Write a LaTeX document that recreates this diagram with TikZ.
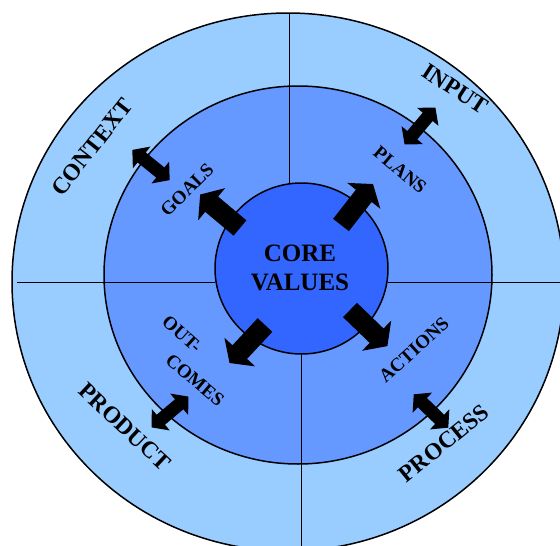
\documentclass[tikz,border=0pt]{standalone}
\usepackage{fontspec}
\setmainfont{Liberation Serif}
\definecolor{outerblue}{HTML}{99CCFF}
\definecolor{middleblue}{HTML}{6699FF}
\definecolor{innerblue}{HTML}{3366FF}
% one-way block arrow: tail centre (#1,#2), direction #3 (degrees)
\newcommand\onewayarrow[3]{%
  \fill[blockarrow,shift={(#1,#2)},rotate=#3]
    (0,-10) -- (37,-10) -- (37,-21) -- (52,0) -- (37,21) -- (37,10) -- (0,10) -- cycle;}
% two-way block arrow: centre (#1,#2), axis direction #3 (degrees)
\newcommand\twowayarrow[3]{%
  \fill[blockarrow,shift={(#1,#2)},rotate=#3]
    (-24,0) -- (-12,-14) -- (-12,-6.5) -- (12,-6.5) -- (12,-14) -- (24,0)
    -- (12,14) -- (12,6.5) -- (-12,6.5) -- (-12,14) -- cycle;}
\begin{document}
\begin{tikzpicture}[x=1pt,y=-1pt,
  ring/.style={draw=black,line width=1.5pt},
  divider/.style={draw=black,line width=1pt},
  blockarrow/.style={fill=black},
  corelabel/.style={font=\fontsize{25}{29}\selectfont\bfseries,inner sep=0pt,align=center},
  outerlabel/.style={font=\fontsize{23.5}{25}\selectfont\bfseries,inner sep=0pt},
  innerlabel/.style={font=\fontsize{19}{21}\selectfont\bfseries,inner sep=0pt}]
\useasboundingbox (0,0) rectangle (560,546);
\clip (0,0) rectangle (560,546);

% rings
\filldraw[ring,fill=outerblue] (288,282) ellipse [x radius=276pt,y radius=269pt];
\filldraw[ring,fill=middleblue] (298,275) ellipse [x radius=194pt,y radius=189pt];

% quadrant dividers
\draw[divider] (289,13) -- (289,183);
\draw[divider] (17,282) -- (215,282);
\draw[divider] (301,354) -- (301,546);
\draw[divider] (388,282) -- (560,282);

% core
\filldraw[ring,fill=innerblue] (301.5,268.5) ellipse [x radius=86.5pt,y radius=85.5pt];
\node[corelabel] (core) at (300,268) {CORE\\VALUES};

% arrows from the core outwards
\onewayarrow{240}{228}{140}
\onewayarrow{341}{225}{52}
\onewayarrow{265}{325}{227}
\onewayarrow{350}{310}{-44}

% arrows across the middle ring
\twowayarrow{151}{165}{-39}
\twowayarrow{420}{126}{50}
\twowayarrow{170}{412}{40}
\twowayarrow{431}{411}{-44}

% outer ring labels
\node[outerlabel,rotate=52] (context) at (92,147) {CONTEXT};
\node[outerlabel,rotate=-33] (input) at (455,89) {INPUT};
\node[outerlabel,rotate=-43] (product) at (125,427) {PRODUCT};
\node[outerlabel,rotate=39] (process) at (444,443) {PROCESS};

% middle ring labels
\node[innerlabel,rotate=45] (goals) at (187,190) {GOALS};
\node[innerlabel,rotate=-40] (plans) at (400,170) {PLANS};
\node[innerlabel,rotate=42] (actions) at (414,350) {ACTIONS};
\node[innerlabel,rotate=-42] (out) at (182,334) {OUT-};
\node[innerlabel,rotate=-40] (comes) at (195,380) {COMES};
\end{tikzpicture}
\end{document}
